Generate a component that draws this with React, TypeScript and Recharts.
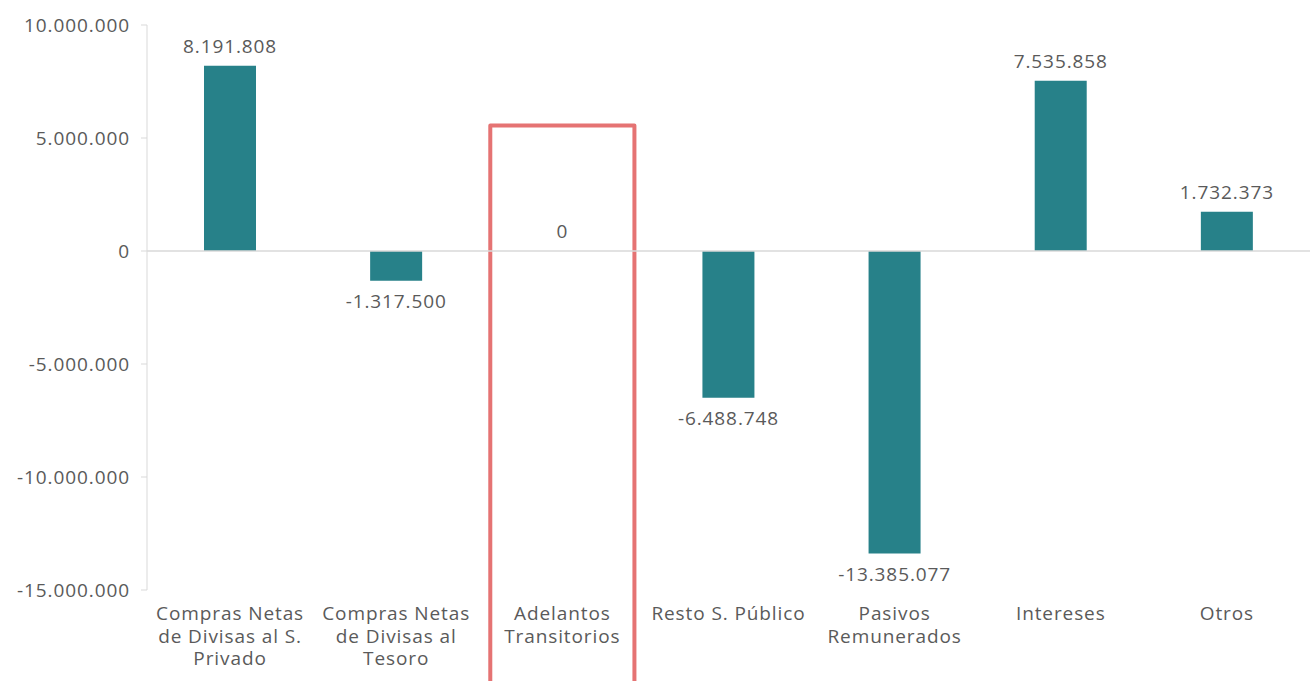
import React from "react";
import {
  ComposedChart,
  Bar,
  Line,
  XAxis,
  YAxis,
  ReferenceLine,
  ReferenceArea,
  LabelList,
} from "recharts";

const categories = [
  "Compras Netas de Divisas al S. Privado",
  "Compras Netas de Divisas al Tesoro",
  "Adelantos Transitorios",
  "Resto S. Público",
  "Pasivos Remunerados",
  "Intereses",
  "Otros",
];

// category labels split the way the reference wraps them
const categoryLines = [
  ["Compras Netas", "de Divisas al S.", "Privado"],
  ["Compras Netas", "de Divisas al", "Tesoro"],
  ["Adelantos", "Transitorios"],
  ["Resto S. Público"],
  ["Pasivos", "Remunerados"],
  ["Intereses"],
  ["Otros"],
];

const values = [8191808, -1317500, 0, -6488748, -13385077, 7535858, 1732373];

const yTicks = [-15000000, -10000000, -5000000, 0, 5000000, 10000000];

const highlighted = "Adelantos Transitorios";
const highlightTop = 5550000;

const data = categories.map((name, i) => ({ name, value: values[i] }));

const TEXT = "#5a5a5a";
const FONT = "'Open Sans', Lato, sans-serif";
const FS = 19;
const LS = 0.9;

const fmt = (v: number) => {
  const s = Math.abs(Math.round(v)).toString().replace(/\B(?=(\d{3})+(?!\d))/g, ".");
  return v < 0 ? `-${s}` : s;
};

function CategoryTick({ x, y, payload }: any) {
  const lines = categoryLines[categories.indexOf(payload.value)] || [payload.value];
  return (
    <text x={x} y={y} textAnchor="middle" fill={TEXT} fontSize={FS} fontFamily={FONT} letterSpacing={LS}>
      {lines.map((l, i) => (
        <tspan key={i} x={x} dy={i === 0 ? 22 : 22.5}>
          {l}
        </tspan>
      ))}
    </text>
  );
}

// labels hang off an invisible line so the zero value gets one too
function ValueLabel({ x, y, value }: any) {
  const v = Number(value);
  const ty = v >= 0 ? y - 20 : y + 20;
  return (
    <text x={x} y={ty} textAnchor="middle" dominantBaseline="central" fill={TEXT} fontSize={FS} fontFamily={FONT} letterSpacing={LS}>
      {fmt(v)}
    </text>
  );
}

function HighlightBox({ x, y, width, height }: any) {
  const inset = 11;
  const l = x + inset;
  const r = x + width - inset;
  const b = y + height;
  return (
    <path
      d={`M${l},${b} L${l},${y} L${r},${y} L${r},${b}`}
      fill="none"
      stroke="#E57373"
      strokeWidth={4}
      strokeLinejoin="round"
    />
  );
}

export default function App() {
  return (
    <div style={{ width: 1316, height: 681 }}>
      <style>{"body{margin:0}"}</style>
      <ComposedChart
        width={1316}
        height={681}
        data={data}
        margin={{ top: 25, right: 6, bottom: 61, left: 0 }}
        barCategoryGap="0%"
      >
        <XAxis
          dataKey="name"
          axisLine={false}
          tickLine={false}
          interval={0}
          height={30}
          tick={<CategoryTick />}
        />
        <YAxis
          width={147}
          domain={[-15000000, 10000000]}
          ticks={yTicks}
          tickFormatter={fmt}
          axisLine={{ stroke: "#D9D9D9" }}
          tickLine={{ stroke: "#D9D9D9" }}
          tickSize={6}
          tickMargin={11}
          tick={{ fill: TEXT, fontSize: FS, fontFamily: FONT, letterSpacing: LS }}
          allowDataOverflow
        />
        <ReferenceLine y={0} stroke="#D9D9D9" strokeWidth={1.5} />
        <Bar dataKey="value" fill="#278189" barSize={52} isAnimationActive={false} />
        <Line
          dataKey="value"
          stroke="none"
          dot={false}
          activeDot={false}
          isAnimationActive={false}
        >
          <LabelList dataKey="value" content={<ValueLabel />} />
        </Line>
        <ReferenceArea
          x1={highlighted}
          x2={highlighted}
          y1={highlightTop}
          y2={-25000000}
          ifOverflow="visible"
          shape={<HighlightBox />}
        />
      </ComposedChart>
    </div>
  );
}
